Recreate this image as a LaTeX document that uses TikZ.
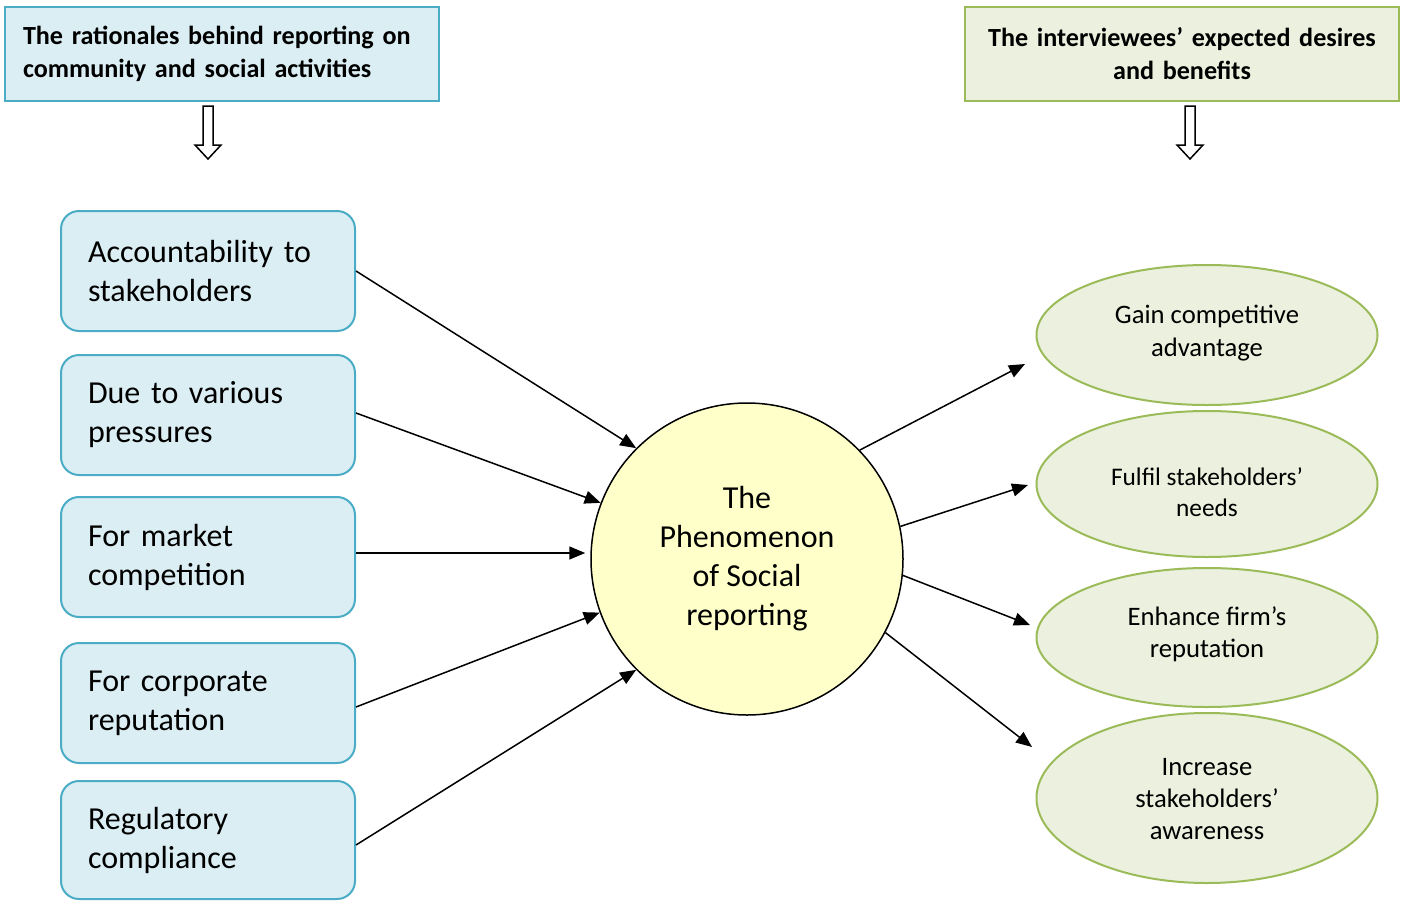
\documentclass[tikz,border=0pt]{standalone}
\usepackage{fontspec}
\setmainfont{Carlito}
\usetikzlibrary{shapes.geometric,arrows.meta}
\definecolor{aquafill}{HTML}{DAEEF3}
\definecolor{aqualine}{HTML}{4BACC6}
\definecolor{olivefill}{HTML}{EBF1DE}
\definecolor{oliveline}{HTML}{9BBB59}
\definecolor{corefill}{HTML}{FFFFC9}
\def\u{0.75pt}
\tikzset{
  header/.style={draw, line width=2*\u, minimum width=434*\u, minimum height=94*\u,
    font=\fontsize{19.6}{24.75}\selectfont\bfseries},
  reason/.style={draw=aqualine, fill=aquafill, line width=2*\u, rounded corners=18*\u,
    minimum width=294*\u, minimum height=120*\u, text width=240*\u, inner xsep=27*\u,
    align=left, font=\fontsize{24}{29.25}\selectfont},
  benefit/.style={ellipse, draw=oliveline, fill=olivefill, line width=2*\u,
    minimum width=341*\u, inner sep=0pt},
  btext/.style={align=center, inner sep=0pt, font=\fontsize{20}{24.2}\selectfont},
  core/.style={circle, draw, fill=corefill, line width=1.5*\u, minimum size=312*\u,
    inner sep=0pt, align=center, font=\fontsize{24}{29.25}\selectfont},
  link/.style={line width=1.5*\u, -{Triangle[length=16*\u, width=13*\u]}},
  hollow/.style={draw, fill=white, line width=1.5*\u, line join=miter}
}
\begin{document}
\begin{tikzpicture}[x=0.75pt, y=-0.75pt]
\useasboundingbox (0,0) rectangle (1407,900);

% headings
\node[header, draw=aqualine, fill=aquafill, text width=398*\u, inner xsep=18*\u, align=left]
  (hl) at (222,54) {The rationales behind reporting on\\community and social activities};
\node[header, draw=oliveline, fill=olivefill, text width=420*\u, inner xsep=7*\u, align=center]
  (hr) at (1182,54) {The interviewees’ expected desires\\and benefits};

% hollow down arrows under the headings
\draw[hollow] (203,106) -- (213,106) -- (213,145) -- (221,145) -- (208,159)
  -- (195,145) -- (203,145) -- cycle;
\draw[hollow] (1185,106) -- (1195,106) -- (1195,145) -- (1203,145) -- (1190,159)
  -- (1177,145) -- (1185,145) -- cycle;

% rationales
\node[reason] (r1) at (208,271) {Accountability to\\stakeholders};
\node[reason] (r2) at (208,415) {Due to various\\pressures};
\node[reason] (r3) at (208,557) {For market\\competition};
\node[reason] (r4) at (208,703) {For corporate\\reputation};
\node[reason, minimum height=118*\u] (r5) at (208,840) {Regulatory\\compliance};

% central phenomenon
\node[core] (c) at (747,559) {The\\Phenomenon\\of Social\\reporting};

% expected benefits
\node[benefit, minimum height=140*\u] (b1) at (1207,335) {};
\node[btext] (b1t) at ([yshift=2*\u]b1.center) {Gain competitive\\advantage};
\node[benefit, minimum height=146*\u] (b2) at (1207,484) {};
\node[btext, font=\fontsize{19}{23.25}\selectfont] (b2t) at ([yshift=-8*\u]b2.center)
  {Fulfil stakeholders’\\needs};
\node[benefit, minimum height=139*\u] (b3) at (1207,637.5) {};
\node[btext] (b3t) at ([yshift=3*\u]b3.center) {Enhance firm’s\\reputation};
\node[benefit, minimum height=170*\u] (b4) at (1207,798) {};
\node[btext] (b4t) at ([yshift=-1*\u]b4.center) {Increase\\stakeholders’\\awareness};

% arrow tips in front of the ellipses
\coordinate (t1) at (1025,364);
\coordinate (t2) at (1028,485);
\coordinate (t3) at (1030,625);
\coordinate (t4) at (1032,747);

% rationales into the phenomenon
\draw[link] (r1.east) -- (c.135);
\draw[link] ([yshift=2*\u]r2.east) -- (c.159);
\draw[link] ([yshift=4*\u]r3.east) -- ([xshift=-5*\u, yshift=6*\u]c.west);
\draw[link] ([yshift=-4*\u]r4.east) -- (c.200);
\draw[link] ([yshift=-5*\u]r5.east) -- (c.225);

% phenomenon out to the benefits
\draw[link] (c.44) -- (t1);
\draw[link] (c.12.5) -- (t2);
\draw[link] (c.-6.5) -- (t3);
\draw[link] (c.-28.5) -- (t4);
\end{tikzpicture}
\end{document}
